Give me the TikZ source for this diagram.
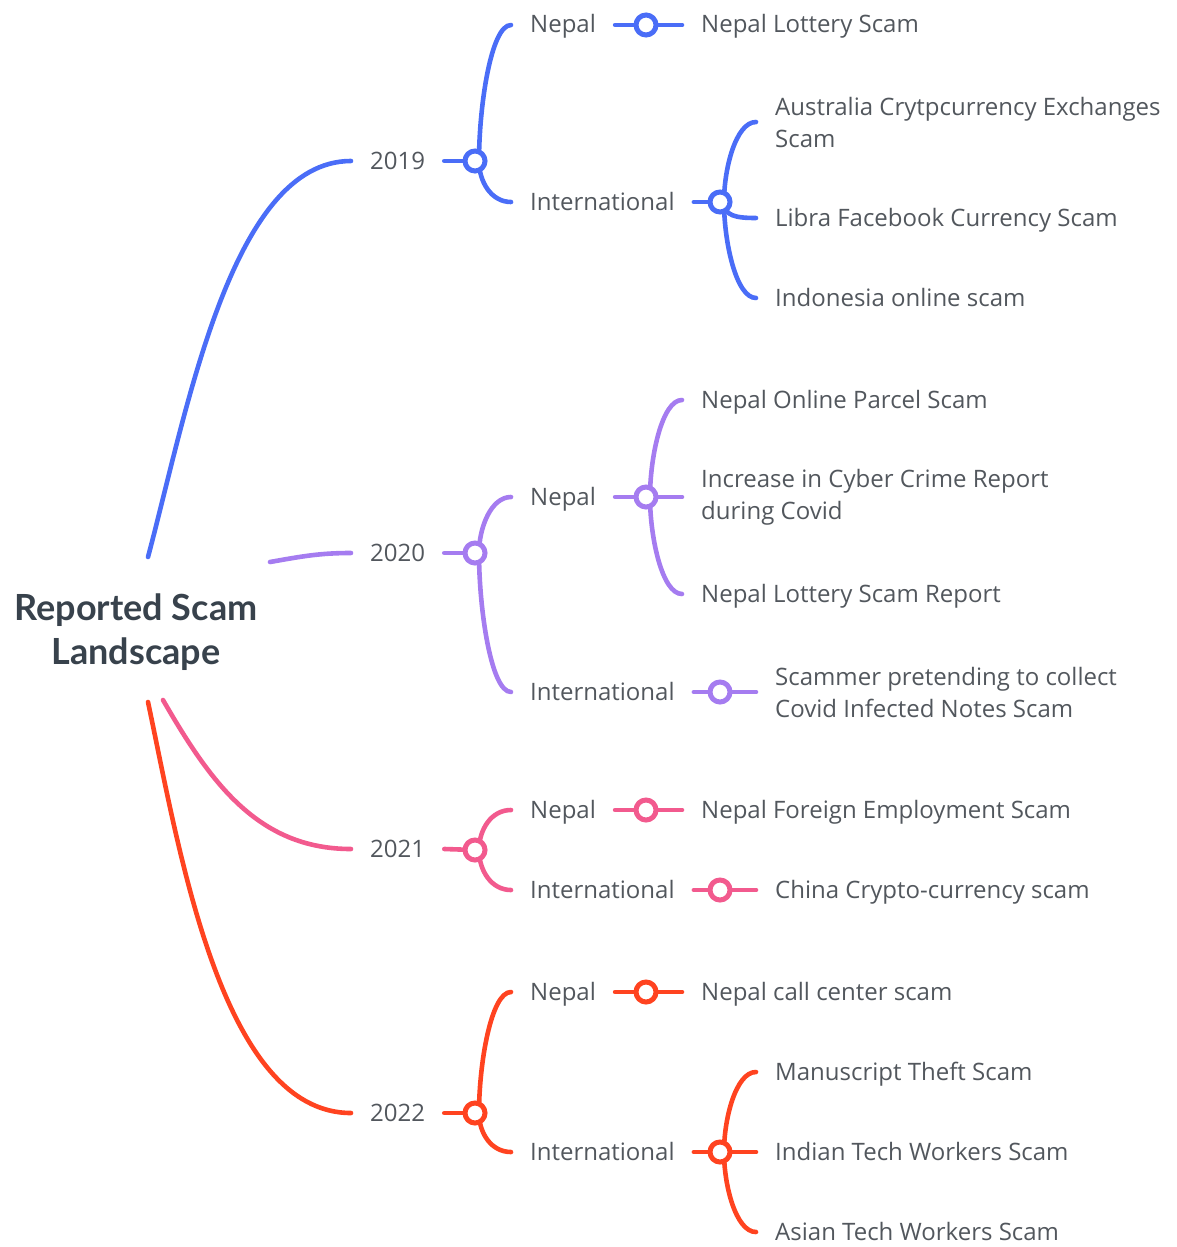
\documentclass[tikz,border=0pt]{standalone}
\usepackage{fontspec}
\setmainfont{Open Sans}
\newfontfamily\rootfont{Lato}

\definecolor{yr19}{HTML}{4A6DF7}
\definecolor{yr20}{HTML}{A57CF0}
\definecolor{yr21}{HTML}{F25A8E}
\definecolor{yr22}{HTML}{FF4320}
\definecolor{lblgray}{HTML}{52575D}
\definecolor{rootgray}{HTML}{38424C}

\tikzset{
    lbl2/.style={anchor=west, inner xsep=19pt, inner ysep=2pt, text=lblgray,
        font=\fontsize{24}{32}\selectfont, align=left},
    lbl/.style={lbl2, text height=18pt, text depth=2pt},
    knot/.style={circle, fill=white, line width=5pt, minimum size=20pt, inner sep=0pt},
    edge/.style={line width=4.6pt, line cap=round},
    fork/.style={edge, in distance=20pt},
}

\begin{document}
\begin{tikzpicture}[x=1pt, y=1pt]
    \useasboundingbox (0,0) rectangle (1177,-1247);

    % root
    \node[text=rootgray, align=center, font=\rootfont\bfseries\fontsize{36}{44}\selectfont]
        (root) at (136,-632) {Reported Scam\\Landscape};
    \coordinate (o19) at (148,-557);
    \coordinate (o20) at (270,-562);
    \coordinate (o21) at (163,-700);
    \coordinate (o22) at (148,-702);

    % years
    \node[lbl] (y19) at (351,-161) {2019};
    \node[lbl] (y20) at (351,-553) {2020};
    \node[lbl] (y21) at (351,-849) {2021};
    \node[lbl] (y22) at (351,-1113) {2022};
    \coordinate (k19) at (475,-161);
    \coordinate (k20) at (475,-553);
    \coordinate (k21) at (475,-850);
    \coordinate (k22) at (475,-1113);

    % regions
    \node[lbl] (n19) at (511,-25) {Nepal};
    \node[lbl] (i19) at (511,-202) {International};
    \node[lbl] (n20) at (511,-497) {Nepal};
    \node[lbl] (i20) at (511,-692) {International};
    \node[lbl] (n21) at (511,-810) {Nepal};
    \node[lbl] (i21) at (511,-890) {International};
    \node[lbl] (n22) at (511,-992) {Nepal};
    \node[lbl] (i22) at (511,-1152) {International};
    \coordinate (kn19) at (646,-25);
    \coordinate (ki19) at (720,-202);
    \coordinate (kn20) at (646,-497);
    \coordinate (ki20) at (720,-692);
    \coordinate (kn21) at (646,-810);
    \coordinate (ki21) at (720,-890);
    \coordinate (kn22) at (646,-992);
    \coordinate (ki22) at (720,-1152);

    % scams
    \node[lbl] (la19) at (682,-25) {Nepal Lottery Scam};
    \node[lbl2] (lb19) at (756,-122) {Australia Crytpcurrency Exchanges\\Scam};
    \node[lbl] (lc19) at (756,-218) {Libra Facebook Currency Scam};
    \node[lbl] (ld19) at (756,-298) {Indonesia online scam};
    \node[lbl] (la20) at (682,-400) {Nepal Online Parcel Scam};
    \node[lbl2] (lb20) at (682,-497) {Increase in Cyber Crime Report\\during Covid};
    \node[lbl] (lc20) at (682,-594) {Nepal Lottery Scam Report};
    \node[lbl2] (ld20) at (756,-692) {Scammer pretending to collect\\Covid Infected Notes Scam};
    \node[lbl] (la21) at (682,-810) {Nepal Foreign Employment Scam};
    \node[lbl] (lb21) at (756,-890) {China Crypto-currency scam};
    \node[lbl] (la22) at (682,-992) {Nepal call center scam};
    \node[lbl] (lb22) at (756,-1072) {Manuscript Theft Scam};
    \node[lbl] (lc22) at (756,-1152) {Indian Tech Workers Scam};
    \node[lbl] (ld22) at (756,-1232) {Asian Tech Workers Scam};

    % 2019
    \draw[edge, yr19] (o19) to[out=75, in=180, out distance=150, in distance=120] (y19.west);
    \draw[edge, yr19] (y19.east) -- (k19);
    \draw[fork, yr19] (k19) ++(4,0) to[out=90, in=180] (n19.west);
    \draw[fork, yr19] (k19) ++(4,0) to[out=-90, in=180] (i19.west);
    \draw[edge, yr19] (n19.east) -- (kn19) -- (la19.west);
    \draw[edge, yr19] (i19.east) -- (ki19);
    \draw[fork, yr19] (ki19) ++(4,0) to[out=90, in=180] (lb19.west);
    \draw[fork, yr19] (ki19) ++(4,0) to[out=-90, in=180] (lc19.west);
    \draw[fork, yr19] (ki19) ++(4,0) to[out=-90, in=180] (ld19.west);

    % 2020
    \draw[edge, yr20] (o20) to[out=10, in=180] (y20.west);
    \draw[edge, yr20] (y20.east) -- (k20);
    \draw[fork, yr20] (k20) ++(4,0) to[out=90, in=180] (n20.west);
    \draw[fork, yr20] (k20) ++(4,0) to[out=-90, in=180] (i20.west);
    \draw[edge, yr20] (n20.east) -- (kn20) -- (lb20.west);
    \draw[fork, yr20] (kn20) ++(4,0) to[out=90, in=180] (la20.west);
    \draw[fork, yr20] (kn20) ++(4,0) to[out=-90, in=180] (lc20.west);
    \draw[edge, yr20] (i20.east) -- (ki20) -- (ld20.west);

    % 2021
    \draw[edge, yr21] (o21) to[out=-60, in=180] (y21.west);
    \draw[edge, yr21] (y21.east) -- (k21);
    \draw[fork, yr21] (k21) ++(4,0) to[out=90, in=180] (n21.west);
    \draw[fork, yr21] (k21) ++(4,0) to[out=-90, in=180] (i21.west);
    \draw[edge, yr21] (n21.east) -- (kn21) -- (la21.west);
    \draw[edge, yr21] (i21.east) -- (ki21) -- (lb21.west);

    % 2022
    \draw[edge, yr22] (o22) to[out=-78, in=180, out distance=150, in distance=130] (y22.west);
    \draw[edge, yr22] (y22.east) -- (k22);
    \draw[fork, yr22] (k22) ++(4,0) to[out=90, in=180] (n22.west);
    \draw[fork, yr22] (k22) ++(4,0) to[out=-90, in=180] (i22.west);
    \draw[edge, yr22] (n22.east) -- (kn22) -- (la22.west);
    \draw[edge, yr22] (i22.east) -- (ki22) -- (lc22.west);
    \draw[fork, yr22] (ki22) ++(4,0) to[out=90, in=180] (lb22.west);
    \draw[fork, yr22] (ki22) ++(4,0) to[out=-90, in=180] (ld22.west);

    % knots on top
    \foreach \k/\c in {k19/yr19, kn19/yr19, ki19/yr19, k20/yr20, kn20/yr20, ki20/yr20,
        k21/yr21, kn21/yr21, ki21/yr21, k22/yr22, kn22/yr22, ki22/yr22}
        \node[knot, draw=\c] at (\k) {};
\end{tikzpicture}
\end{document}
